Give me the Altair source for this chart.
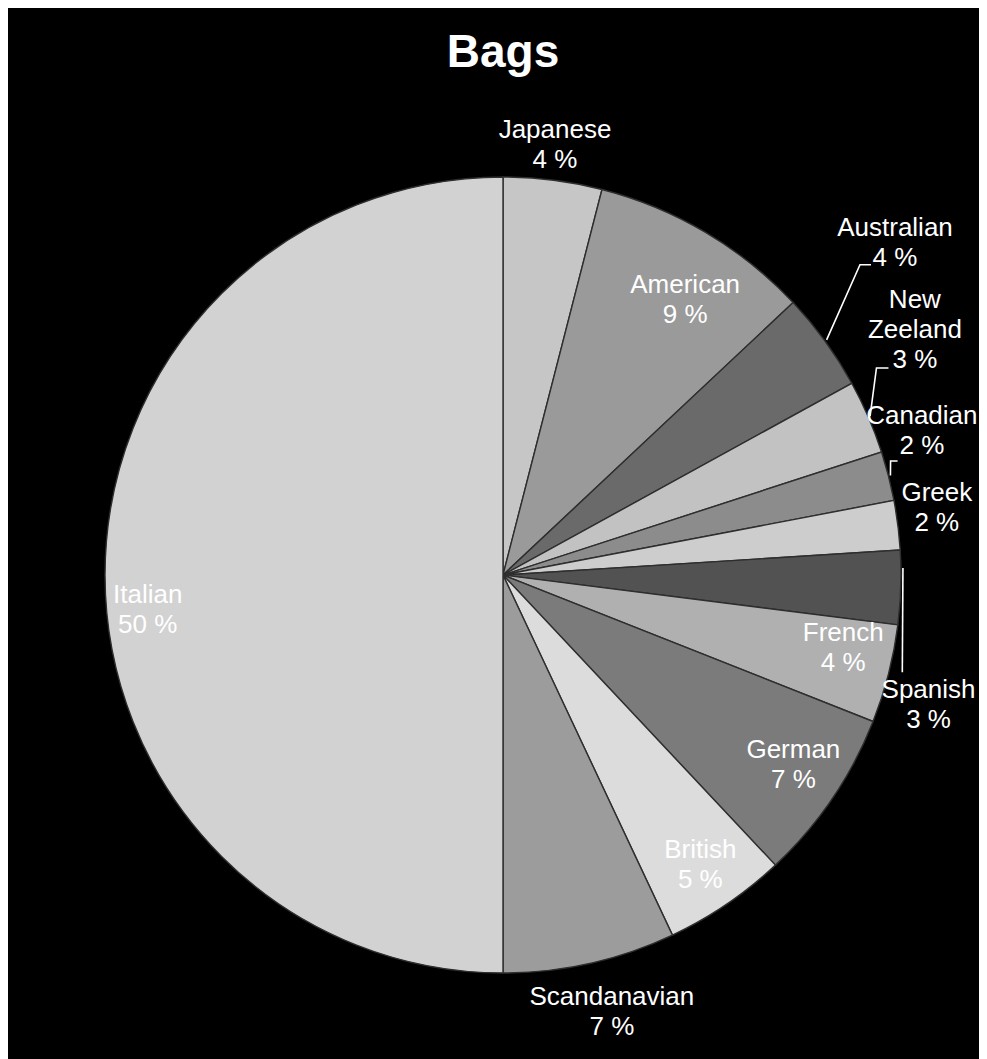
import altair as alt
import numpy as np
import pandas as pd

# ---------------- data ----------------
title_text = "Bags"
categories = ["Japanese", "American", "Australian", "New Zeeland", "Canadian", "Greek",
              "Spanish", "French", "German", "British", "Scandanavian", "Italian"]
label_names = ["Japanese", "American", "Australian", "New\nZeeland", "Canadian", "Greek",
               "Spanish", "French", "German", "British", "Scandanavian", "Italian"]
shares = [4, 9, 4, 3, 2, 2, 3, 4, 7, 5, 7, 50]

# ---------------- styles ----------------
fill_colors = ["#c6c6c6", "#9a9a9a", "#6a6a6a", "#c2c2c2", "#8c8c8c", "#cdcdcd",
               "#525252", "#b0b0b0", "#7b7b7b", "#dcdcdc", "#9c9c9c", "#d2d2d2"]
FONT = "Liberation Sans, Arial, sans-serif"
LABEL_SIZE = 26
LINE_H = 30

# ---------------- layout ----------------
W, H = 971, 1053
CX, CY = 495, 567          # pie centre inside the chart
R = 398                    # pie radius
label_radius = [433, 330, 514, 479, 443, 439, 445, 348, 347, 351, 450, 357]
label_shift_deg = [-0.3, 2.9, -4.3, -7.3, -4.6, -1.6, 15.2, -2.3, -1.0, 0.0, -1.4, -5.6]
leader_elbow_r = [None, None, 473, 427, 404, None, 411, None, None, None, None, None]
leader_elbow_deg = [None, None, 49, 61, 73.6, None, 103.7, None, None, None, None, None]
leader_start_deg = [None, None, 54, 66.6, 75.6, None, 89.0, None, None, None, None, None]
leader_tail = [None, None, 11, 12, 7, None, 0, None, None, None, None, None]

# ---------------- derived tables ----------------
vals = np.array(shares, dtype=float)
cum_end = np.cumsum(vals)
mid_frac = (cum_end - vals / 2) / vals.sum()
mid_deg = mid_frac * 360.0

pie_df = pd.DataFrame({"category": categories, "share": shares, "idx": range(len(categories))})

lab_rows = []
for i, cat in enumerate(categories):
    a = np.radians(mid_deg[i] + label_shift_deg[i])
    text = f"{label_names[i]}\n{shares[i]} %"
    n = text.count("\n") + 1
    bx = CX + label_radius[i] * np.sin(a)
    by = CY - label_radius[i] * np.cos(a)
    lab_rows.append({"category": cat, "text": text, "lx": bx, "ly": by - (n - 1) * LINE_H / 2})
lab_df = pd.DataFrame(lab_rows)

lead_rows = []
for i, cat in enumerate(categories):
    if leader_elbow_r[i] is None:
        continue
    a0 = np.radians(leader_start_deg[i])
    p0 = (CX + (R + 2) * np.sin(a0), CY - (R + 2) * np.cos(a0))
    a1 = np.radians(leader_elbow_deg[i])
    p1 = (CX + leader_elbow_r[i] * np.sin(a1), CY - leader_elbow_r[i] * np.cos(a1))
    pts = [p0, p1]
    if leader_tail[i]:
        pts.append((p1[0] + leader_tail[i], p1[1]))
    for k, (x, y) in enumerate(pts):
        lead_rows.append({"category": cat, "pt": k, "x": x, "y": y})
lead_df = pd.DataFrame(lead_rows)

# ---------------- chart ----------------
pie = alt.Chart(pie_df).mark_arc(radius=R, stroke="#2e2e2e", strokeWidth=1.4).encode(
    theta=alt.Theta("share:Q", stack=True),
    color=alt.Color("category:N", scale=alt.Scale(domain=categories, range=fill_colors), legend=None),
    order=alt.Order("idx:Q"),
    x=alt.value(CX),
    y=alt.value(CY),
)

leaders = alt.Chart(lead_df).mark_line(color="white", strokeWidth=1.6).encode(
    x=alt.X("x:Q", scale=None, axis=None),
    y=alt.Y("y:Q", scale=None, axis=None),
    detail="category:N",
    order="pt:Q",
)

labels = alt.Chart(lab_df).mark_text(
    font=FONT, fontSize=LABEL_SIZE, color="white", align="center", baseline="middle",
    lineBreak="\n", lineHeight=LINE_H,
).encode(
    x=alt.X("lx:Q", scale=None, axis=None),
    y=alt.Y("ly:Q", scale=None, axis=None),
    text="text:N",
)

title = alt.Chart(pd.DataFrame({"t": [title_text]})).mark_text(
    font=FONT, fontSize=46, fontWeight="bold", color="white", align="center", baseline="alphabetic",
).encode(text="t:N", x=alt.value(CX), y=alt.value(59))

chart = alt.layer(pie, leaders, labels, title).properties(
    width=W, height=H, background="black", padding=0,
    autosize=alt.AutoSizeParams(type="none"),
).configure_view(stroke=None)

chart.save("out.html", embed_options={"renderer": "svg", "actions": False})
